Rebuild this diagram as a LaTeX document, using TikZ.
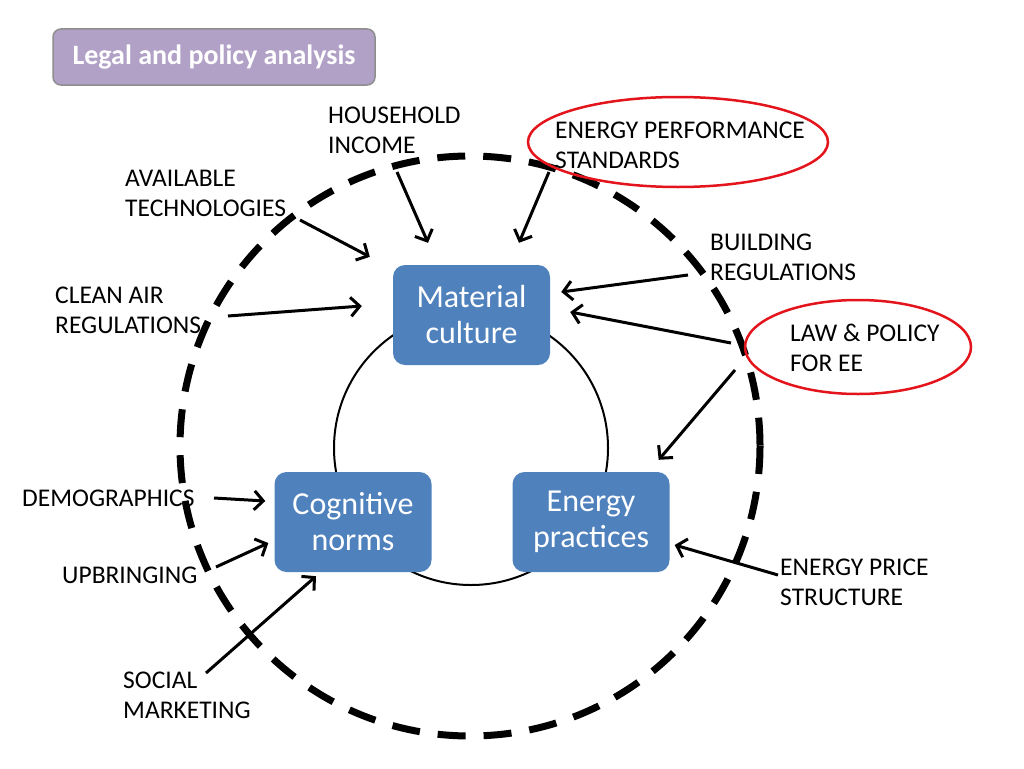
\documentclass[tikz,border=0pt]{standalone}
\usepackage{fontspec}
\setmainfont{Carlito}
\usetikzlibrary{arrows.meta,calc,shapes.geometric}
\definecolor{boxblue}{HTML}{4F81BD}
\definecolor{titlepurple}{HTML}{B2A1C7}
\definecolor{titleedge}{HTML}{8E8E8E}
\definecolor{ringred}{HTML}{E3141B}
\tikzset{
  factor/.style={anchor=north west, inner sep=0pt, align=left,
    font=\fontsize{25.5}{30}\selectfont},
  block/.style={fill=boxblue, rounded corners=12pt, minimum width=157pt,
    minimum height=100pt, text=white, align=center,
    font=\fontsize{32}{36}\selectfont},
  heading/.style={fill=titlepurple, draw=titleedge, line width=1.5pt,
    rounded corners=8pt, minimum width=322pt, minimum height=56pt,
    text=white, font=\bfseries\fontsize{28}{32}\selectfont},
  redring/.style={ellipse, draw=ringred, line width=2.5pt},
  arr/.style={-{Straight Barb[length=9pt,width=19pt]}, line width=3pt},
}
\begin{document}
\begin{tikzpicture}[x=1pt,y=-1pt]
  \useasboundingbox (0,0) rectangle (1024,768);
  \node[heading] (lpa) at (214,57) {Legal and policy analysis};
  % outer boundary and the cycle
  \draw[line width=7pt, dash pattern=on 28pt off 18pt] (470,446) circle [radius=290];
  \draw[line width=2pt] (471,448) circle [radius=137];
  \node[block] (mat) at (471.5,315) {Material\\culture};
  \node[block] (cog) at (353,522) {Cognitive\\norms};
  \node[block] (enp) at (591,522) {Energy\\practices};
  % red rings
  \node[redring, minimum width=300pt, minimum height=90pt] (eps-ring) at (678,142) {};
  \node[redring, minimum width=226pt, minimum height=94pt] (law-ring) at (858,347) {};
  % factors
  \node[factor] (hh) at (328,107) {HOUSEHOLD\\INCOME};
  \node[factor] (eps) at (555,122) {ENERGY PERFORMANCE\\STANDARDS};
  \node[factor] (avt) at (125,170) {AVAILABLE\\TECHNOLOGIES};
  \node[factor] (bld) at (710,234) {BUILDING\\REGULATIONS};
  \node[factor] (car) at (55,287) {CLEAN AIR\\REGULATIONS};
  \node[factor] (law) at (790,324) {LAW \& POLICY\\FOR EE};
  \node[factor] (dem) at (22,490) {DEMOGRAPHICS};
  \node[factor] (upb) at (62,567) {UPBRINGING};
  \node[factor] (prc) at (780,559) {ENERGY PRICE\\STRUCTURE};
  \node[factor] (soc) at (123,672) {SOCIAL\\MARKETING};
  % arrow tails
  \coordinate (hh-t) at (397,172);
  \coordinate (eps-t) at (549,172);
  \coordinate (avt-t) at (300,220);
  \coordinate (car-t) at (228,316);
  \coordinate (bld-t) at (688,275);
  \coordinate (law-t1) at (731,343);
  \coordinate (law-t2) at (735,370);
  \coordinate (dem-t) at (214,498);
  \coordinate (upb-t) at (216,567);
  \coordinate (soc-t) at (206,673);
  \coordinate (prc-t) at (778,575);
  \draw[arr] (hh-t) -- ($(mat.north)+(-43.5,-22)$);
  \draw[arr] (eps-t) -- ($(mat.north)+(47.5,-22)$);
  \draw[arr] (avt-t) -- ($(mat.north west)+(-23,-8)$);
  \draw[arr] (car-t) -- ($(mat.west)+(-31,-9)$);
  \draw[arr] (bld-t) -- ($(mat.east)+(11,-23)$);
  \draw[arr] (law-t1) -- ($(mat.east)+(20,-3)$);
  \draw[arr] (law-t2) -- ($(enp.north east)+(-11,-12)$);
  \draw[arr] (prc-t) -- ($(enp.east)+(5,23)$);
  \draw[arr] (dem-t) -- ($(cog.west)+(-9,-21)$);
  \draw[arr] (upb-t) -- ($(cog.west)+(-6,21)$);
  \draw[arr] (soc-t) -- ($(cog.south)+(-37,4)$);
\end{tikzpicture}
\end{document}
